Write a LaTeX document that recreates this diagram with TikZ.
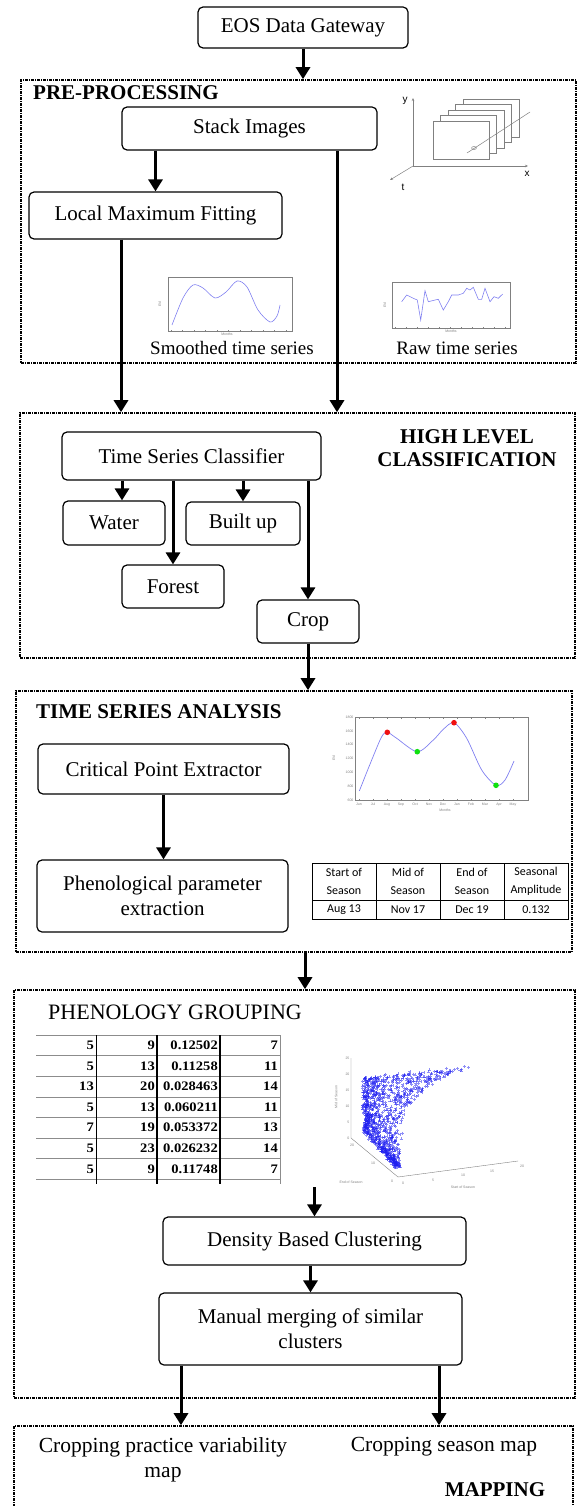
\documentclass[tikz,border=0pt]{standalone}
\usepackage{fontspec}
\setmainfont{Liberation Serif}
\setsansfont{Liberation Sans}
\newfontfamily\cellfont{Carlito}
\newfontfamily\numfont[FakeStretch=1.12, BoldFeatures={FakeStretch=1.12}]{Liberation Serif}
\usetikzlibrary{positioning, arrows.meta, calc}
\definecolor{axisgray}{HTML}{808080}
\definecolor{curveblue}{HTML}{8080F0}
\definecolor{dotblue}{HTML}{1E1EF0}
\definecolor{peakred}{HTML}{F01010}
\definecolor{troughgreen}{HTML}{10E010}
\definecolor{rulegray}{HTML}{8C8C8C}

\begin{document}
\begin{tikzpicture}[x=1pt, y=-1pt,
    box/.style={draw, line width=1.2pt, rounded corners=5pt, align=center, inner sep=0pt, font=\fontsize{21}{25}\selectfont},
    stage/.style={draw, line width=1.6pt, dash pattern=on 3pt off 1pt on 1pt off 1pt, inner sep=0pt},
    arr/.style={line width=3pt, -{Triangle[length=12pt, width=14pt]}},
    head/.style={font=\fontsize{21}{23}\selectfont\bfseries, inner sep=0pt},
    lbl/.style={font=\fontsize{19}{23}\selectfont, inner sep=0pt, align=center},
    maplbl/.style={font=\fontsize{21.5}{25}\selectfont, inner sep=0pt, align=center},
    ticklbl/.style={font=\sffamily\fontsize{3.5}{4}\selectfont, text=axisgray, inner sep=0.4pt},
    plotframe/.style={draw=axisgray, line width=0.4pt},
    cell/.style={font=\cellfont\fontsize{12}{18.5}\selectfont, align=center, inner sep=0pt},
    num/.style={anchor=east, font=\numfont\bfseries\fontsize{13}{14}\selectfont, inner sep=0pt}]
  \useasboundingbox (0,0) rectangle (578,1506);
  \clip (0,0) rectangle (578,1506);

  % stage frames
  \node[stage, minimum width=555pt, minimum height=283pt] (pre) at (298.5,221.5) {};
  \node[stage, minimum width=555pt, minimum height=245pt] (hlc) at (297.5,535.5) {};
  \node[stage, minimum width=556pt, minimum height=261pt] (tsa) at (294,821.5) {};
  \node[stage, minimum width=561pt, minimum height=408pt] (phg) at (294.5,1194) {};
  \node[stage, minimum width=559pt, minimum height=100pt] (map) at (293.5,1476) {};

  \node[head, anchor=west] (prehead) at (33,93) {PRE-PROCESSING};
  \node[head, align=center] (hlchead) at (467,448.5) {HIGH LEVEL\\CLASSIFICATION};
  \node[head, anchor=west] (tsahead) at (36,712) {TIME SERIES ANALYSIS};
  \node[head, anchor=west, font=\fontsize{22}{24}\selectfont] (phghead) at (48,1012) {PHENOLOGY GROUPING};
  \node[head] (maphead) at (495,1490) {MAPPING};

  % process boxes
  \node[box, minimum width=210pt, minimum height=41pt] (eos) at (303,27.5) {EOS Data Gateway};
  \node[box, minimum width=255pt, minimum height=43pt] (stack) at (249.5,128.5) {Stack Images};
  \node[box, minimum width=253pt, minimum height=47pt] (lmf) at (155.5,215.5) {Local Maximum Fitting};
  \node[box, minimum width=259pt, minimum height=48pt] (tsc) at (191.5,456) {Time Series Classifier};
  \node[box, minimum width=102pt, minimum height=44pt] (water) at (114,523) {Water};
  \node[box, minimum width=114pt, minimum height=43pt] (builtup) at (243,523.5) {Built up};
  \node[box, minimum width=102pt, minimum height=43pt] (forest) at (173,586.5) {Forest};
  \node[box, minimum width=102pt, minimum height=43pt] (crop) at (308,621.5) {Crop};
  \node[box, minimum width=251pt, minimum height=50pt] (cpe) at (163.5,769) {Critical Point Extractor};
  \node[box, minimum width=251pt, minimum height=72pt] (ppe) at (162.5,896) {Phenological parameter\\extraction};
  \node[box, minimum width=303pt, minimum height=48pt] (dbc) at (314.5,1241) {Density Based Clustering};
  \node[box, minimum width=303pt, minimum height=72pt] (mmc) at (310.5,1329) {Manual merging of similar\\clusters};

  \node[lbl] (smoothlbl) at (232,348) {Smoothed time series};
  \node[lbl] (rawlbl) at (457,348) {Raw time series};
  \node[maplbl] (cpvmap) at (163,1459.5) {Cropping practice variability\\map};
  \node[maplbl] (csmap) at (444,1447) {Cropping season map};

  % connectors
  \foreach \n/\x in {lmfx/121, stackx/337, waterx/122, tsax/305, mmcl/181, mmcr/439}
    \coordinate (\n) at (\x,0);
  \coordinate (scatbase) at (0,1187);
  \draw[arr] (eos.south) -- (eos.south |- pre.north);
  \draw[arr] (lmf.north |- stack.south) -- (lmf.north);
  \draw[arr] (lmf.south -| lmfx) -- (hlc.north -| lmfx);
  \draw[arr] (stack.south -| stackx) -- (hlc.north -| stackx);
  \draw[arr] (tsc.south -| waterx) -- (water.north -| waterx);
  \draw[arr] (builtup.north |- tsc.south) -- (builtup.north);
  \draw[arr] (forest.north |- tsc.south) -- (forest.north);
  \draw[arr] (crop.north |- tsc.south) -- (crop.north);
  \draw[arr] (crop.south) -- (crop.south |- tsa.north);
  \draw[arr] (cpe.south) -- (cpe.south |- ppe.north);
  \draw[arr] (tsa.south -| tsax) -- (phg.north -| tsax);
  \draw[arr] (dbc.north |- scatbase) -- (dbc.north);
  \draw[arr] (mmc.north |- dbc.south) -- (mmc.north);
  \draw[arr] (mmc.south -| mmcl) -- (map.north -| mmcl);
  \draw[arr] (mmc.south -| mmcr) -- (map.north -| mmcr);

  % image stack sketch
  \foreach \k in {4,3,2,1,0}
    \draw[axisgray, fill=white, line width=0.6pt] ({433+7.5*\k},{121-5.5*\k}) rectangle ++(56,38);
  \draw[axisgray, line width=0.5pt, -{Stealth[length=3pt, width=2.5pt]}] (413,166) -- (413,98);
  \draw[axisgray, line width=0.5pt, -{Stealth[length=3pt, width=2.5pt]}] (413,166) -- (528,166);
  \draw[axisgray, line width=0.5pt, -{Stealth[length=3pt, width=2.5pt]}] (413,166) -- (390,180);
  \draw[axisgray, line width=0.5pt] (467,153) -- (530,112);
  \draw[axisgray, line width=0.4pt] (474,148) ellipse (2.5 and 1.5);
  \node[font=\sffamily\fontsize{10}{12}\selectfont, inner sep=0pt] at (405,101) {y};
  \node[font=\sffamily\fontsize{10}{12}\selectfont, inner sep=0pt] at (527,174) {x};
  \node[font=\sffamily\fontsize{10}{12}\selectfont, inner sep=0pt] at (403,187) {t};

  % smoothed and raw series
  \draw[plotframe] (168,277) rectangle (292,331);
  \draw[plotframe] (392,282) rectangle (510,328);
  \foreach \j in {0,...,10} {
    \draw[axisgray, line width=0.3pt] ({171+11.5*\j},331) -- ++(0,-1.5);
    \draw[axisgray, line width=0.3pt] ({395+11*\j},328) -- ++(0,-1.5);
  }
  \node[ticklbl, rotate=90] at (160,304) {EVI};
  \node[ticklbl] at (227,334.5) {Months};
  \node[ticklbl, rotate=90] at (385,305) {EVI};
  \node[ticklbl] at (451,331.5) {Months};
  \draw[curveblue, line width=0.6pt] plot[smooth] coordinates {(172,325) (183,298) (193,285) (203,288) (215,298) (226,292) (237,281) (247,287) (258,310) (270,322) (277,316) (280,305)};
  \draw[curveblue, line width=0.6pt] (401.7,301.7) -- (406.7,295) -- (413.3,298.3) -- (417.3,300) -- (420.7,320) -- (425,290.7) -- (428.3,301.7) -- (435,300) -- (438.3,299.3) -- (443.3,310) -- (448.3,301.7) -- (451.7,295) -- (458.3,295) -- (463.3,293.3) -- (466.7,288.3) -- (470,290) -- (473.3,287.3) -- (478.3,299.3) -- (481.7,299.3) -- (485,288.3) -- (490,301.7) -- (494,296.7) -- (498.3,298.3) -- (502.7,294);

  % critical points plot
  \draw[plotframe] (355,717) rectangle (528,800);
  \foreach \m [count=\j from 0] in {Jun,Jul,Aug,Sep,Oct,Nov,Dec,Jan,Feb,Mar,Apr,May} {
    \node[ticklbl] at ({359+14*\j},804.5) {\m};
    \draw[axisgray, line width=0.3pt] ({359+14*\j},717) -- ++(0,1.5) ({359+14*\j},800) -- ++(0,-1.5);
  }
  \foreach \v [count=\j from 0] in {1800,1600,1400,1200,1000,800,600}
    \node[ticklbl, anchor=east] at (354,{717+13.83*\j}) {\v};
  \node[ticklbl, rotate=90] at (334,758) {EVI};
  \node[ticklbl] at (445,810) {Months};
  \draw[curveblue, line width=0.7pt] plot[smooth] coordinates {(359.3,791) (371.7,760) (381.7,736.7) (387.3,732.3) (396.7,738.3) (417.3,751.7) (433.3,740) (443.3,729.3) (454,722.7) (466.7,738.3) (481.7,770) (496,785.3) (505,780) (514,761)};
  \fill[peakred] (387.3,732.3) circle (2.8) (454,722.7) circle (2.8);
  \fill[troughgreen] (417.3,751.7) circle (2.8) (496,785.3) circle (2.8);

  % phenology parameter table
  \draw[line width=0.9pt] (312,863) rectangle (568,919) (312,900) -- (568,900);
  \foreach \x in {376,440,504}
    \draw[line width=0.9pt] (\x,863) -- (\x,919);
  \foreach \x/\a/\b/\c in {344/Start of/Season/Aug 13, 408/Mid of/Season/Nov 17, 472/End of/Season/Dec 19, 536/Seasonal/Amplitude/0.132} {
    \node[cell] at (\x,881.5) {\a\\\b};
    \node[cell] at (\x,909.5) {\c};
  }

  % parameter values
  \foreach \k in {0,...,7}
    \draw[rulegray, line width=0.6pt] (36,{1035+20.6*\k}) -- (280,{1035+20.6*\k});
  \foreach \x in {96.5,157,220}
    \draw[line width=1.6pt] (\x,1035) -- (\x,1184);
  \draw[rulegray, line width=0.6pt] (280,1035) -- (280,1184);
  \foreach \a/\b/\c/\d [count=\i from 0] in {5/9/0.12502/7, 5/13/0.11258/11, 13/20/0.028463/14, 5/13/0.060211/11, 7/19/0.053372/13, 5/23/0.026232/14, 5/9/0.11748/7} {
    \pgfmathsetmacro\ry{1045.3+20.6*\i}
    \node[num] at (94,\ry) {\a};
    \node[num] at (155,\ry) {\b};
    \node[num] at (218,\ry) {\c};
    \node[num] at (278,\ry) {\d};
  }

  % scatter of seasons
  \draw[axisgray, line width=0.4pt] (351,1058) -- (351,1138) -- (398,1177) -- (518,1161);
  \foreach \v [count=\j from 0] in {25,20,15,10,5,0}
    \node[ticklbl, anchor=east] at (350,{1058+16*\j}) {\v};
  \foreach \v/\x/\y in {0/403/1183, 5/433/1180, 10/463/1175.5, 15/492/1171.5, 20/522/1166}
    \node[ticklbl] at (\x,\y) {\v};
  \foreach \v/\x/\y in {20/352/1145, 10/373/1163, 0/392/1181}
    \node[ticklbl] at (\x,\y) {\v};
  \node[ticklbl, rotate=90] at (336,1097) {Mid of Season};
  \node[ticklbl] at (351,1182) {End of Season};
  \node[ticklbl] at (463,1187) {Start of Season};
  \pgfmathsetseed{42}
  \foreach \i in {1,...,1100} {
    \pgfmathsetmacro\v{rnd}
    \pgfmathsetmacro\u{rnd^2.4}
    \pgfmathsetmacro\lx{365+33*max(0,(\v-0.6)/0.4)}
    \pgfmathsetmacro\ly{1077+90*\v}
    \pgfmathsetmacro\px{\lx+\u*(1-\v)*(473-\lx)+3*rand}
    \pgfmathsetmacro\py{\ly+\u*(1-\v)*(1067-\ly)+2*rand}
    \draw[dotblue, line width=0.4pt, opacity=0.5] (\px-1.5,\py) -- (\px+1.5,\py) (\px,\py-1.5) -- (\px,\py+1.5);
  }
\end{tikzpicture}
\end{document}
